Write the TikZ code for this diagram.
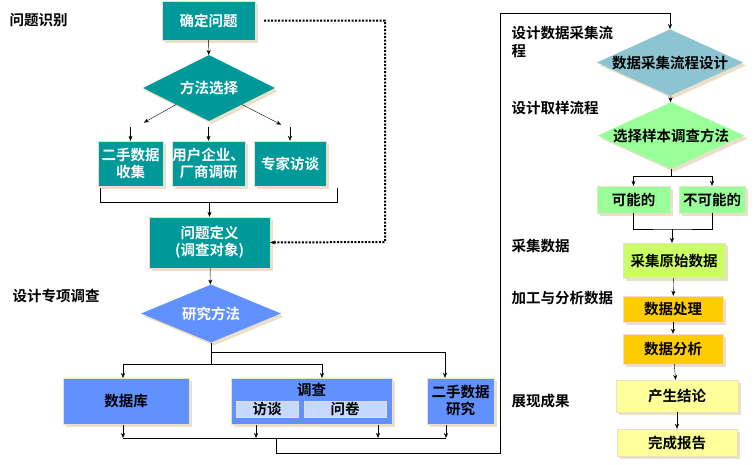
\documentclass[tikz,border=0pt]{standalone}
\usepackage{fontspec}
\setmainfont{Noto Sans CJK SC}[BoldFont={Noto Sans CJK SC Bold}]
\usetikzlibrary{positioning,calc,shapes.geometric,shadows,arrows.meta}
\definecolor{teal1}{HTML}{009999}
\definecolor{blue1}{HTML}{6190FF}
\definecolor{blue2}{HTML}{C6D8FF}
\definecolor{sky1}{HTML}{8CC4D2}
\definecolor{green1}{HTML}{99FF99}
\definecolor{lime1}{HTML}{CCFF66}
\definecolor{gold1}{HTML}{FFCC00}
\definecolor{cream1}{HTML}{FFFF99}
\definecolor{beige1}{HTML}{EADFC8}

\begin{document}
\begin{tikzpicture}[
    x=1pt,y=-1pt,
    font=\bfseries\fontsize{14.5}{17}\selectfont,
    box/.style={
      rectangle,
      draw=beige1,
      inner sep=0pt,
      align=center,
      drop shadow={fill=beige1,opacity=1,shadow xshift=3pt,shadow yshift=-3pt},
    },
    subbox/.style={
      rectangle,
      draw=beige1,
      inner sep=0pt,
      fill=blue2,
    },
    dia/.style={
      diamond,
      inner sep=0pt,
      aspect=2.2,
      align=center,
      drop shadow={fill=beige1,opacity=1,shadow xshift=3pt,shadow yshift=-3pt},
    },
    step label/.style={anchor=west,font=\bfseries\fontsize{14.5}{18}\selectfont,align=left},
    myarrow/.style={->,>={Stealth[length=5pt,width=4pt]}},
  ]
  \useasboundingbox (0,0) rectangle (756,464);

  % left column
  \node [box,fill=teal1,text=white,minimum width=93,minimum height=39] (q0) at (208.5,20.5) {确定问题};
  \node [dia,fill=teal1,text=white,minimum width=132,minimum height=66] (m0) at (209,88) {方法选择};
  \node [box,fill=teal1,text=white,minimum width=65,minimum height=45] (s1) at (130.5,163.5) {二手数据\\收集};
  \node [box,fill=teal1,text=white,minimum width=73,minimum height=45] (s2) at (208.5,163.5) {用户企业、\\厂商调研};
  \node [box,fill=teal1,text=white,minimum width=72,minimum height=45] (s3) at (290,163.5) {专家访谈};
  \node [box,fill=teal1,text=white,minimum width=121,minimum height=51] (q1) at (209.5,242.5) {问题定义\\(调查对象)};
  \node [dia,fill=blue1,text=white,minimum width=140,minimum height=58] (m1) at (211,313.5) {研究方法};
  \node [box,fill=blue1,minimum width=126,minimum height=46] (r1) at (126,401) {数据库};
  \node [box,fill=blue1,minimum width=161,minimum height=46] (r2) at (311.5,401) {};
  \node (r2t) at (311.5,390) {调查};
  \node [subbox,minimum width=62,minimum height=16] (r2a) at (267,409) {访谈};
  \node [subbox,minimum width=82,minimum height=16] (r2b) at (345,409) {问卷};
  \node [box,fill=blue1,minimum width=67,minimum height=46] (r3) at (460.5,401) {二手数据\\研究};

  % right column
  \node [dia,fill=sky1,minimum width=134,minimum height=60] (d0) at (670,62.5) {数据采集流程设计};
  \node [dia,fill=green1,minimum width=132,minimum height=60] (d1) at (671,135.5) {选择样本调查方法};
  \node [box,fill=green1,minimum width=73,minimum height=27] (y1) at (633.5,199.5) {可能的};
  \node [box,fill=green1,minimum width=66,minimum height=27] (y2) at (712,199.5) {不可能的};
  \node [box,fill=lime1,minimum width=102,minimum height=35] (c1) at (674,260.5) {采集原始数据};
  \node [box,fill=gold1,minimum width=100,minimum height=26] (p1) at (673,309) {数据处理};
  \node [box,fill=gold1,minimum width=100,minimum height=30] (p2) at (673,349) {数据分析};
  \node [box,fill=cream1,minimum width=122,minimum height=32] (e1) at (677,396) {产生结论};
  \node [box,fill=cream1,minimum width=120,minimum height=27] (e2) at (677,442.5) {完成报告};

  % stage labels
  \node [step label] (l1) at (6,20) {问题识别};
  \node [step label] (l2) at (9,296) {设计专项调查};
  \node [step label] (l3) at (508,42) {设计数据采集流\\程};
  \node [step label] (l4) at (508,108) {设计取样流程};
  \node [step label] (l5) at (508,246) {采集数据};
  \node [step label] (l6) at (508,298) {加工与分析数据};
  \node [step label] (l7) at (508,401) {展现成果};

  % connectors, left
  \draw [myarrow] (q0) -- (m0);
  \draw [myarrow] ($(m0.south)!0.5!(m0.west)$) -- ++(-32,18);
  \draw [myarrow] ($(m0.south)!0.5!(m0.east)$) -- ++(39,20);
  \foreach \n in {s1,s2,s3}
    \draw [myarrow] (\n.north) ++(0,-14) -- (\n.north);
  \coordinate (b1) at (100,202);
  \coordinate (b2) at (337,202);
  \draw (b1) ++(0,-14) -- (b1) -- (b2) -- ++(0,-14);
  \draw [myarrow] (q1.north |- b1) -- (q1);
  \draw [line width=2pt,dash pattern=on 2pt off 1.5pt,myarrow] (q0.east) ++(9,0) -| (385,242) -- (q1.east);
  \draw [myarrow] (q1) -- (m1);
  \draw (m1.south) |- (445,352) coordinate (t3);
  \draw [myarrow] (t3) -- (r3.north -| t3);
  \draw (m1.south) -- (m1.south |- 0,364) coordinate (t0);
  \draw [myarrow] (t0) -| (123,378);
  \draw [myarrow] (t0) -| (322,378);
  \coordinate (u0) at (123,438);
  \coordinate (u1) at (446,438);
  \draw (u0) -- (u1);
  \foreach \x in {123,256,378,446}
    \draw [myarrow] (\x,425) -- (\x,438);
  \draw [myarrow] (276,438) |- (500,453) |- (670,13) -- (d0.north);

  % connectors, right
  \draw [myarrow] (d0) -- (d1);
  \draw (d1.south) -- ++(0,7) coordinate (v0);
  \draw [myarrow] (v0) -| (y1);
  \draw [myarrow] (v0) -| (y2);
  \draw (y1) |- (672,229) coordinate (v1) -| (y2);
  \draw [myarrow] (v1) -- (c1.north -| v1);
  \draw [myarrow] (c1) -- (p1);
  \draw [myarrow] (p1) -- (p2);
  \draw [myarrow] (p2) -- (e1);
  \draw [myarrow] (e1) -- (e2);
\end{tikzpicture}
\end{document}
